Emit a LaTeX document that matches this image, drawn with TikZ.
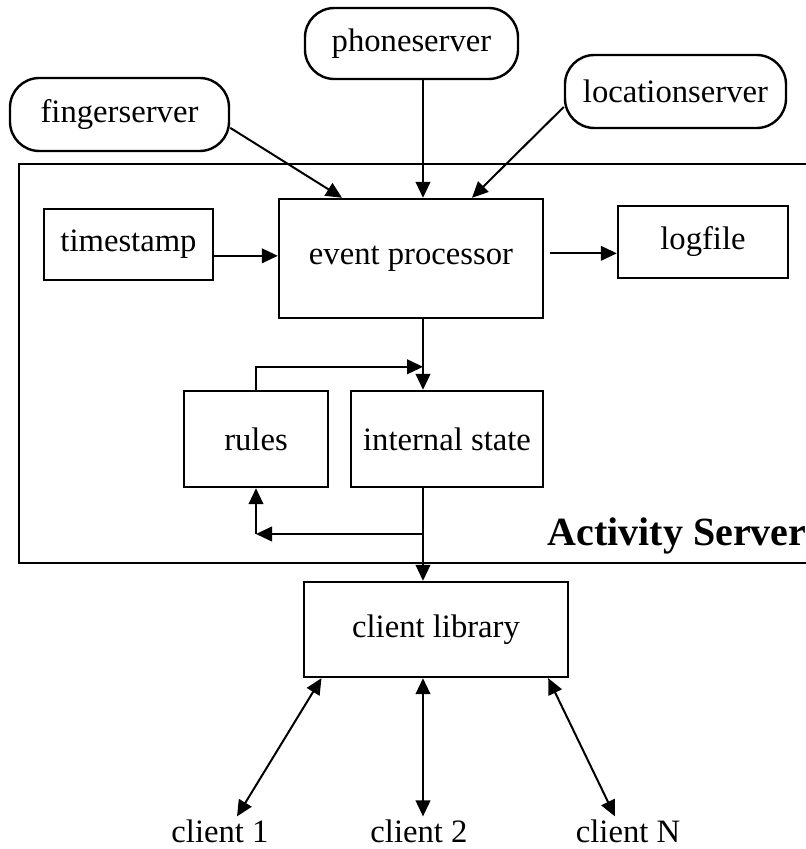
\documentclass[tikz,border=0pt]{standalone}
\usepackage{fontspec}
\setmainfont{Liberation Serif}
\usetikzlibrary{arrows.meta}
\begin{document}
\begin{tikzpicture}[x=0.75pt,y=-0.75pt,
  every node/.style={font=\fontsize{24.5pt}{29pt}\selectfont},
  box/.style={draw,line width=1.8pt,inner sep=0pt,fill=white},
  srv/.style={box,rounded corners=22pt},
  arr/.style={line width=1.5pt,-{Triangle[length=12pt,width=11pt]}},
  biarr/.style={line width=1.5pt,{Triangle[length=12pt,width=11pt]}-{Triangle[length=12pt,width=11pt]}},
  frame/.style={line width=1.8pt}]
  % canvas
  \fill[white] (0,0) rectangle (806,849);
  \useasboundingbox (0,0) rectangle (806,849);

  % Activity Server frame (runs off the right edge)
  \draw[frame] (806,164) -- (19,164) -- (19,563) -- (806,563);
  \node[anchor=base west,font=\fontsize{30pt}{36pt}\selectfont\bfseries] (title) at (543,545) {Activity Server};

  % input servers
  \node[srv,minimum width=159.75pt,minimum height=53.25pt] (phone) at (411.5,43.5) {phoneserver};
  \node[srv,minimum width=164.25pt,minimum height=54.75pt] (finger) at (119.5,114.5) {fingerserver};
  \node[srv,minimum width=165.75pt,minimum height=54.75pt] (location) at (675.5,91.5) {locationserver};

  % server internals
  \node[box,minimum width=126.75pt,minimum height=53.25pt] (ts) at (128.5,244.5) {timestamp};
  \node[box,minimum width=198pt,minimum height=89.25pt] (ep) at (411,258.5) {event processor};
  \node[box,minimum width=127.5pt,minimum height=54pt] (log) at (703,242) {logfile};
  \node[box,minimum width=108pt,minimum height=72pt] (rules) at (256,439) {rules};
  \node[box,minimum width=144pt,minimum height=72pt] (state) at (447,439) {internal state};

  % client side
  \node[box,minimum width=198pt,minimum height=71.25pt] (lib) at (436,629.5) {client library};
  \node[anchor=base,inner sep=0pt] (cl1) at (220,842) {client 1};
  \node[anchor=base,inner sep=0pt] (cl2) at (419,842) {client 2};
  \node[anchor=base,inner sep=0pt] (clN) at (628,842) {client N};

  % main vertical signal line
  \coordinate (vx) at (423,0);
  \coordinate (br) at (423,534);

  % inputs into the event processor
  \draw[arr] (phone.south -| vx) -- (ep.north -| vx);
  \draw[arr] ([yshift=-10pt]finger.east) -- ([xshift=-51.75pt]ep.north);
  \draw[arr] ([yshift=-11.6pt]location.west) -- ([xshift=45.75pt]ep.north);
  \draw[arr] ([yshift=-8.5pt]ts.east) -- ([yshift=-8.5pt]ts.east -| ep.west);
  \draw[arr,shorten <=4pt] ([yshift=-8.5pt]log.west -| ep.east) -- ([yshift=-8.5pt]log.west);

  % processing chain
  \draw[arr] (ep.south -| vx) -- (state.north -| vx);
  \draw[arr] (rules.north) |- ([yshift=17.25pt]state.north -| vx);
  \draw[arr] (state.south -| vx) -- (lib.north -| vx);
  \draw[arr] (br) -- (br -| rules);
  \draw[arr] (br -| rules) -- (rules.south);

  % clients
  \draw[biarr] ([xshift=14pt]lib.south west) -- ([xshift=12.75pt,yshift=2pt]cl1.north);
  \draw[biarr] (lib.south -| vx) -- ([yshift=2pt]cl2.north -| vx);
  \draw[biarr] ([xshift=-15.75pt]lib.south east) -- ([xshift=-9.75pt,yshift=2pt]clN.north);
\end{tikzpicture}
\end{document}
